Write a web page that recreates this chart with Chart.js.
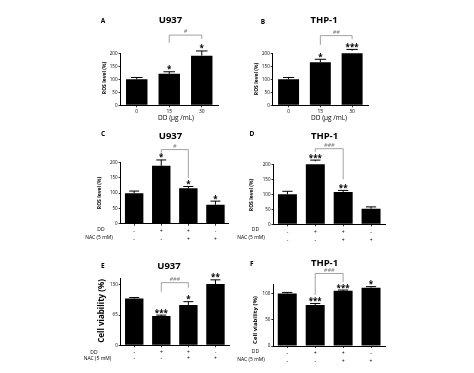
<!DOCTYPE html>
<html>
<head>
<meta charset="utf-8">
<script src="https://cdn.jsdelivr.net/npm/chart.js@4.4.0/dist/chart.umd.min.js"></script>
<style>
  html, body { margin: 0; padding: 0; background: #fff; }
  #wrap { position: relative; width: 474px; height: 373px; overflow: hidden; }
  #wrap canvas { position: absolute; left: 0; top: 0; }
</style>
</head>
<body>
<div id="wrap">
  <canvas id="pA" width="474" height="373"></canvas>
  <canvas id="pB" width="474" height="373"></canvas>
  <canvas id="pC" width="474" height="373"></canvas>
  <canvas id="pD" width="474" height="373"></canvas>
  <canvas id="pE" width="474" height="373"></canvas>
  <canvas id="pF" width="474" height="373"></canvas>
</div>
<script>
  // --- data ---
  const doseLabels = ['0', '15', '30'];
  const ddRow  = ['-', '+', '+', '-'];
  const nacRow = ['-', '-', '+', '+'];

  const rosU937Dose    = [100, 121, 191];
  const rosU937DoseErr = [7, 8, 18];
  const rosU937DoseSig = ['', '*', '*'];

  const rosThpDose     = [100, 166, 210];
  const rosThpDoseErr  = [7, 11, 5];
  const rosThpDoseSig  = ['', '*', '***'];

  const rosU937Nac     = [100, 190, 116, 62];
  const rosU937NacErr  = [7, 19, 6, 12];
  const rosU937NacSig  = ['', '*', '*', '*'];

  const rosThpNac      = [100, 210, 108, 52];
  const rosThpNacErr   = [10, 4, 5, 6];
  const rosThpNacSig   = ['', '***', '**', ''];

  const viaU937Nac     = [101, 63, 87, 132];
  const viaU937NacErr  = [2, 2, 7, 9];
  const viaU937NacSig  = ['', '***', '*', '**'];

  const viaThpNac      = [100, 78, 105, 111];
  const viaThpNacErr   = [2, 3, 1.5, 2];
  const viaThpNacSig   = ['', '***', '***', '*'];

  const rosTicks  = [0, 50, 100, 150, 200];
  const viaTicksU = [0, 65, 130];
  const viaTicksT = [0, 50, 100];

  const FONT = "'Open Sans', 'DejaVu Sans', sans-serif";
  Chart.defaults.font.family = FONT;
  Chart.defaults.color = '#000';

  const nacLabels = ddRow.map((d, i) => [d, nacRow[i]]);

  // draws error bars, stars, brackets and the free text of each panel
  const extras = {
    id: 'extras',
    afterDatasetsDraw(chart, args, p) {
      const ctx = chart.ctx;
      const y = chart.scales.y;
      const meta = chart.getDatasetMeta(0);
      ctx.save();
      ctx.strokeStyle = '#000';
      ctx.lineWidth = 1;
      ctx.fillStyle = '#000';
      ctx.textAlign = 'center';
      ctx.textBaseline = 'alphabetic';
      p.values.forEach((v, i) => {
        const bar = meta.data[i];
        const half = bar.width * 0.27;
        const y0 = y.getPixelForValue(v);
        const y1 = y.getPixelForValue(v + p.errors[i]);
        ctx.beginPath();
        ctx.moveTo(bar.x, y0); ctx.lineTo(bar.x, y1);
        ctx.moveTo(bar.x - half, y1); ctx.lineTo(bar.x + half, y1);
        ctx.stroke();
        if (p.stars[i]) {
          ctx.font = 'bold 8px ' + FONT;
          ctx.fillText(p.stars[i], bar.x, y1 + 0.5);
        }
      });
      const b = p.bracket;
      if (b) {
        const xa = meta.data[b.from].x, xb = meta.data[b.to].x;
        const yt = y.getPixelForValue(b.top);
        ctx.strokeStyle = '#8a8a8a';
        ctx.lineWidth = 0.8;
        ctx.beginPath();
        ctx.moveTo(xa, y.getPixelForValue(b.left));
        ctx.lineTo(xa, yt); ctx.lineTo(xb, yt);
        ctx.lineTo(xb, y.getPixelForValue(b.right));
        ctx.stroke();
        ctx.fillStyle = '#777';
        ctx.font = 'italic 5.5px ' + FONT;
        ctx.fillText(b.text, (xa + xb) / 2, yt - 1.8);
      }
      ctx.fillStyle = '#000';
      ctx.textBaseline = 'middle';
      (p.texts || []).forEach(t => {
        ctx.font = t.font + ' ' + FONT;
        if (t.rot) {
          ctx.save();
          ctx.translate(t.x, t.y);
          ctx.rotate(-Math.PI / 2);
          ctx.fillText(t.s, 0, 0);
          ctx.restore();
        } else {
          ctx.fillText(t.s, t.x, t.y);
        }
      });
      ctx.restore();
    }
  };

  function makePanel(id, cfg) {
    const yW = 16, xH = 18;
    new Chart(document.getElementById(id), {
      type: 'bar',
      data: {
        labels: cfg.labels,
        datasets: [{
          data: cfg.values,
          backgroundColor: '#000',
          borderColor: '#000',
          borderWidth: 0,
          categoryPercentage: 1,
          barPercentage: cfg.barPct
        }]
      },
      options: {
        responsive: false,
        animation: false,
        events: [],
        layout: {
          padding: {
            left: cfg.area.l - yW,
            right: 474 - cfg.area.r,
            top: cfg.area.t,
            bottom: 373 - cfg.area.b - xH
          }
        },
        plugins: {
          legend: { display: false },
          tooltip: { enabled: false },
          extras: {
            values: cfg.values, errors: cfg.errors, stars: cfg.stars,
            bracket: cfg.bracket, texts: cfg.texts
          }
        },
        scales: {
          x: {
            offset: true,
            grid: { display: true, drawOnChartArea: false, offset: false, tickLength: 2, color: '#000', tickWidth: 0.8 },
            border: { display: true, color: '#000', width: 1 },
            ticks: {
              font: { size: 5, lineHeight: cfg.rowGap },
              padding: cfg.xPad, maxRotation: 0, autoSkip: false
            },
            afterFit: s => { s.height = xH; }
          },
          y: {
            min: 0, max: cfg.yMax,
            grid: { display: true, drawOnChartArea: false, tickLength: 2, color: '#000', tickWidth: 0.8 },
            border: { display: true, color: '#000', width: 1 },
            ticks: { font: { size: 4.5 }, padding: 1 },
            afterBuildTicks: s => { s.ticks = cfg.yTicks.map(v => ({ value: v })); },
            afterFit: s => { s.width = yW; }
          }
        }
      },
      plugins: [extras]
    });
  }

  makePanel('pA', {
    labels: doseLabels, values: rosU937Dose, errors: rosU937DoseErr, stars: rosU937DoseSig,
    barPct: 0.66, yMax: 200, yTicks: rosTicks, rowGap: 1.2, xPad: 1.5,
    area: { l: 120.5, r: 218, t: 53.3, b: 105.3 },
    bracket: { from: 1, to: 2, top: 270, left: 240, right: 255, text: '#' },
    texts: [
      { s: 'A', x: 103, y: 21, font: 'bold 6.5px' },
      { s: 'U937', x: 170.5, y: 20, font: 'bold 9.5px' },
      { s: 'ROS level (%)', x: 105, y: 78, font: 'bold 5px', rot: true },
      { s: 'DD (\u00b5g /mL)', x: 176, y: 118, font: '6.5px' }
    ]
  });

  makePanel('pB', {
    labels: doseLabels, values: rosThpDose, errors: rosThpDoseErr, stars: rosThpDoseSig,
    barPct: 0.66, yMax: 200, yTicks: rosTicks, rowGap: 1.2, xPad: 1.5,
    area: { l: 272.7, r: 368, t: 53.3, b: 105.3 },
    bracket: { from: 1, to: 2, top: 268, left: 232, right: 254, text: '##' },
    texts: [
      { s: 'B', x: 263, y: 22, font: 'bold 6.5px' },
      { s: 'THP-1', x: 324, y: 20, font: 'bold 9.5px' },
      { s: 'ROS level (%)', x: 257, y: 79, font: 'bold 5px', rot: true },
      { s: 'DD (\u00b5g /mL)', x: 329, y: 118, font: '6.5px' }
    ]
  });

  makePanel('pC', {
    labels: nacLabels, values: rosU937Nac, errors: rosU937NacErr, stars: rosU937NacSig,
    barPct: 0.68, yMax: 200, yTicks: rosTicks, rowGap: 1.6, xPad: 2,
    area: { l: 120.6, r: 229, t: 162.7, b: 223.7 },
    bracket: { from: 1, to: 2, top: 243, left: 233, right: 150, text: '#' },
    texts: [
      { s: 'C', x: 103, y: 134, font: 'bold 6.5px' },
      { s: 'U937', x: 170.5, y: 136, font: 'bold 9.5px' },
      { s: 'ROS level (%)', x: 100, y: 193, font: 'bold 5px', rot: true },
      { s: 'DD', x: 101, y: 229.3, font: '5px' },
      { s: 'NAC (5 mM)', x: 99, y: 237.5, font: '5px' }
    ]
  });

  makePanel('pD', {
    labels: nacLabels, values: rosThpNac, errors: rosThpNacErr, stars: rosThpNacSig,
    barPct: 0.68, yMax: 200, yTicks: rosTicks, rowGap: 1.6, xPad: 2,
    area: { l: 273.5, r: 385, t: 164.3, b: 224.3 },
    bracket: { from: 1, to: 2, top: 252, left: 242, right: 150, text: '###' },
    texts: [
      { s: 'D', x: 252, y: 134, font: 'bold 6.5px' },
      { s: 'THP-1', x: 324.5, y: 136, font: 'bold 9.5px' },
      { s: 'ROS level (%)', x: 252, y: 195, font: 'bold 5px', rot: true },
      { s: 'DD', x: 255.5, y: 229.3, font: '5px' },
      { s: 'NAC (5 mM)', x: 251, y: 237.3, font: '5px' }
    ]
  });

  makePanel('pE', {
    labels: nacLabels, values: viaU937Nac, errors: viaU937NacErr, stars: viaU937NacSig,
    barPct: 0.68, yMax: 145, yTicks: viaTicksU, rowGap: 1.3, xPad: 2,
    area: { l: 120.7, r: 229, t: 278, b: 345.3 },
    bracket: { from: 1, to: 2, top: 135, left: 115.5, right: 124, text: '###' },
    texts: [
      { s: 'E', x: 102.7, y: 265.7, font: 'bold 6.5px' },
      { s: 'U937', x: 169, y: 266, font: 'bold 9.5px' },
      { s: 'Cell viability (%)', x: 101.7, y: 311, font: 'bold 8px', rot: true },
      { s: 'DD', x: 94, y: 352.7, font: '5px' },
      { s: 'NAC (5 mM)', x: 97.5, y: 359, font: '5px' }
    ]
  });

  makePanel('pF', {
    labels: nacLabels, values: viaThpNac, errors: viaThpNacErr, stars: viaThpNacSig,
    barPct: 0.68, yMax: 118, yTicks: viaTicksT, rowGap: 1.5, xPad: 2,
    area: { l: 273.3, r: 385, t: 284, b: 346 },
    bracket: { from: 1, to: 2, top: 138, left: 97, right: 121, text: '###' },
    texts: [
      { s: 'F', x: 251.7, y: 264.5, font: 'bold 6.5px' },
      { s: 'THP-1', x: 324.5, y: 263.5, font: 'bold 9.5px' },
      { s: 'Cell viability (%)', x: 255, y: 320, font: 'bold 6px', rot: true },
      { s: 'DD', x: 255.5, y: 351.7, font: '5px' },
      { s: 'NAC (5 mM)', x: 251, y: 359.3, font: '5px' }
    ]
  });
</script>
</body>
</html>
